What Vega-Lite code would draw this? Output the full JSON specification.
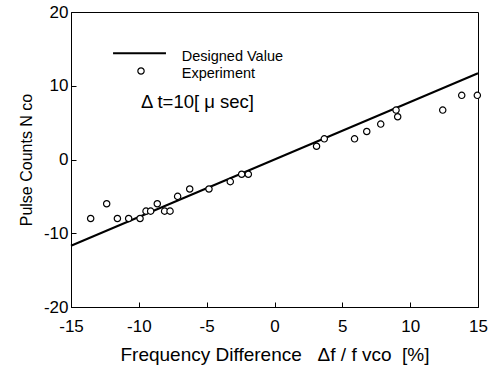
{
  "$schema": "https://vega.github.io/schema/vega-lite/v6.json",
  "width": 407,
  "height": 295,
  "autosize": {"type": "none"},
  "padding": {"left": 71, "top": 12, "right": 18, "bottom": 65},
  "background": "white",
  "config": {
    "view": {"stroke": "black", "strokeWidth": 1},
    "axis": {
      "grid": false,
      "domainColor": "black",
      "tickColor": "black",
      "labelColor": "black",
      "titleColor": "black",
      "labelFont": "Liberation Sans",
      "titleFont": "Liberation Sans",
      "labelFontSize": 17,
      "titleFontSize": 16,
      "titleFontWeight": "normal",
      "labelFlush": false,
      "labelOverlap": false,
      "tickSize": -5
    }
  },
  "datasets": {
    "design": [{"x": -15, "y": -11.7}, {"x": 15, "y": 11.7}],
    "exp": [
      {"x": -13.55, "y": -8}, {"x": -12.37, "y": -6}, {"x": -11.58, "y": -8},
      {"x": -10.75, "y": -8}, {"x": -9.91, "y": -8}, {"x": -9.47, "y": -7},
      {"x": -9.13, "y": -7}, {"x": -8.64, "y": -6}, {"x": -8.1, "y": -7},
      {"x": -7.7, "y": -7}, {"x": -7.14, "y": -5}, {"x": -6.25, "y": -4},
      {"x": -4.83, "y": -4}, {"x": -3.26, "y": -3}, {"x": -2.42, "y": -2},
      {"x": -1.93, "y": -2}, {"x": 3.1, "y": 1.8}, {"x": 3.67, "y": 2.8},
      {"x": 5.9, "y": 2.8}, {"x": 6.8, "y": 3.8}, {"x": 7.83, "y": 4.8},
      {"x": 8.96, "y": 6.7}, {"x": 9.08, "y": 5.8}, {"x": 12.4, "y": 6.7},
      {"x": 13.8, "y": 8.7}, {"x": 14.95, "y": 8.7}
    ],
    "legline": [{"x": -11.9, "y": 14.4}, {"x": -8.0, "y": 14.4}],
    "legpt": [{"x": -9.84, "y": 12.0}],
    "texts": [
      {"x": -6.84, "y": 13.95, "t": "Designed Value"},
      {"x": -6.84, "y": 11.65, "t": "Experiment"}
    ],
    "dt": [{"x": -9.84, "y": 7.85, "t": "Δ t=10[ μ sec]"}]
  },
  "layer": [
    {
      "data": {"name": "design"},
      "mark": {"type": "line", "color": "black", "strokeWidth": 2},
      "encoding": {
        "x": {
          "field": "x", "type": "quantitative",
          "scale": {"domain": [-15, 15], "nice": false},
          "axis": {
            "values": [-15, -12.5, -10, -7.5, -5, -2.5, 0, 2.5, 5, 7.5, 10, 12.5, 15],
            "labelExpr": "datum.value % 5 == 0 ? toString(datum.value) : ''",
            "labelPadding": 16,
            "title": "Frequency Difference\u00a0\u00a0 Δf / f vco\u00a0 [%]",
            "titleFontSize": 19,
            "titlePadding": 11
          }
        },
        "y": {
          "field": "y", "type": "quantitative",
          "scale": {"domain": [-20, 20], "nice": false},
          "axis": {
            "values": [-20, -15, -10, -5, 0, 5, 10, 15, 20],
            "labelExpr": "datum.value % 10 == 0 ? toString(datum.value) : ''",
            "labelPadding": 8,
            "title": "Pulse Counts N co",
            "titlePadding": 9
          }
        }
      }
    },
    {
      "data": {"name": "exp"},
      "mark": {"type": "point", "shape": "circle", "filled": false, "fill": "white", "fillOpacity": 1, "stroke": "black", "strokeWidth": 1.2, "size": 40, "opacity": 1},
      "encoding": {
        "x": {"field": "x", "type": "quantitative"},
        "y": {"field": "y", "type": "quantitative"}
      }
    },
    {
      "data": {"name": "legline"},
      "mark": {"type": "line", "color": "black", "strokeWidth": 2},
      "encoding": {
        "x": {"field": "x", "type": "quantitative"},
        "y": {"field": "y", "type": "quantitative"}
      }
    },
    {
      "data": {"name": "legpt"},
      "mark": {"type": "point", "shape": "circle", "filled": false, "fill": "white", "fillOpacity": 1, "stroke": "black", "strokeWidth": 1.2, "size": 40, "opacity": 1},
      "encoding": {
        "x": {"field": "x", "type": "quantitative"},
        "y": {"field": "y", "type": "quantitative"}
      }
    },
    {
      "data": {"name": "texts"},
      "mark": {"type": "text", "align": "left", "baseline": "middle", "font": "Liberation Sans", "fontSize": 14.5, "color": "black"},
      "encoding": {
        "x": {"field": "x", "type": "quantitative"},
        "y": {"field": "y", "type": "quantitative"},
        "text": {"field": "t"}
      }
    },
    {
      "data": {"name": "dt"},
      "mark": {"type": "text", "align": "left", "baseline": "middle", "font": "Liberation Sans", "fontSize": 18.5, "color": "black"},
      "encoding": {
        "x": {"field": "x", "type": "quantitative"},
        "y": {"field": "y", "type": "quantitative"},
        "text": {"field": "t"}
      }
    }
  ]
}
